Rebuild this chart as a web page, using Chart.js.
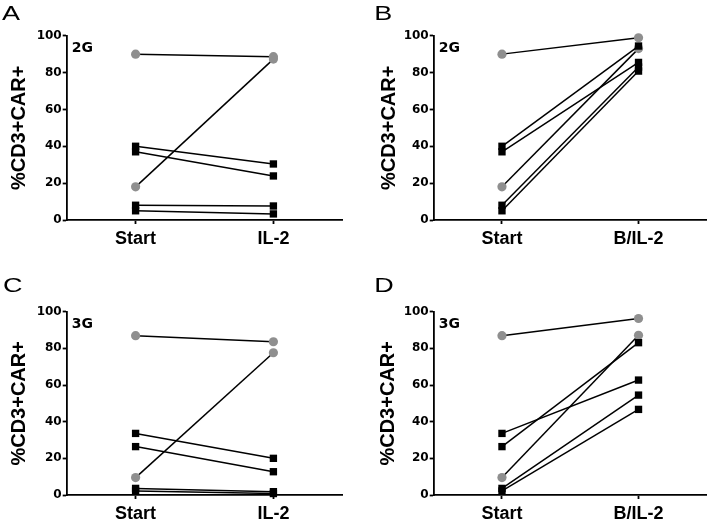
<!DOCTYPE html>
<html>
<head>
<meta charset="utf-8">
<script src="https://cdn.jsdelivr.net/npm/chart.js@4.4.1/dist/chart.umd.min.js"></script>
<style>
  html, body { margin: 0; padding: 0; background: #fff; overflow: hidden; width: 712px; height: 519px; }
  canvas { position: absolute; }
</style>
</head>
<body>
<canvas id="pA" width="356" height="260" style="left:0px;top:0px"></canvas>
<canvas id="pB" width="356" height="260" style="left:356px;top:0px"></canvas>
<canvas id="pC" width="356" height="300" style="left:0px;top:260px"></canvas>
<canvas id="pD" width="356" height="300" style="left:356px;top:260px"></canvas>
<script>
// ---- data ----
const categoriesIL2  = ['Start', 'IL-2'];
const categoriesBIL2 = ['Start', 'B/IL-2'];
const yTicks = [0, 20, 40, 60, 80, 100];
const yTitle = '%CD3+CAR+';

// Panel A (2G, Start -> IL-2)
const A_circleStart = [90, 18];
const A_circleEnd   = [88.6, 87.3];
const A_squareStart = [40, 37, 8, 5];
const A_squareEnd   = [30.4, 23.9, 7.6, 3.3];

// Panel B (2G, Start -> B/IL-2)
const B_circleStart = [90, 18];
const B_circleEnd   = [98.9, 93];
const B_squareStart = [40, 37, 8, 5];
const B_squareEnd   = [94.4, 85.5, 83, 80.8];

// Panel C (3G, Start -> IL-2)
const C_circleStart = [86.9, 9.5];
const C_circleEnd   = [83.6, 77.6];
const C_squareStart = [33.6, 26.4, 3.6, 2.2];
const C_squareEnd   = [20, 12.7, 1.8, 0.8];

// Panel D (3G, Start -> B/IL-2)
const D_circleStart = [86.9, 9.5];
const D_circleEnd   = [96.3, 87.1];
const D_squareStart = [33.6, 26.4, 3.6, 2.2];
const D_squareEnd   = [62.7, 83.1, 54.5, 46.7];

// ---- styling ----
const GRAY = '#8f8f8f';
const BLACK = '#000000';

const textPlugin = {
  id: 'panelText',
  afterDraw(chart, args, opts) {
    const ctx = chart.ctx, a = chart.chartArea;
    ctx.save();
    ctx.fillStyle = '#000';
    ctx.textAlign = 'left';
    ctx.textBaseline = 'alphabetic';
    ctx.font = 'bold 14px "DejaVu Sans"';
    ctx.fillText(opts.tag, a.left + 5, a.top + 16);
    ctx.translate(opts.letterX, opts.letterY);
    ctx.scale(1.35, 1);
    ctx.font = '20px "Liberation Sans"';
    ctx.fillText(opts.letter, 0, 0);
    ctx.restore();
  }
};

function makePanel(id, cfg) {
  const datasets = [];
  cfg.squareStart.forEach((v, i) => {
    datasets.push({
      data: [v, cfg.squareEnd[i]],
      borderColor: BLACK, borderWidth: 1.5,
      pointStyle: 'rect', pointRadius: 5.2, pointBorderWidth: 0,
      pointBackgroundColor: BLACK, pointBorderColor: BLACK,
      clip: false
    });
  });
  cfg.circleStart.forEach((v, i) => {
    datasets.push({
      data: [v, cfg.circleEnd[i]],
      borderColor: BLACK, borderWidth: 1.5,
      pointStyle: 'circle', pointRadius: 4.6, pointBorderWidth: 0,
      pointBackgroundColor: GRAY, pointBorderColor: GRAY,
      clip: false
    });
  });
  new Chart(document.getElementById(id), {
    type: 'line',
    data: { labels: cfg.categories, datasets },
    plugins: [textPlugin],
    options: {
      responsive: false, animation: false, devicePixelRatio: 1,
      events: [],
      layout: { padding: { left: 0, top: cfg.padTop, right: cfg.padRight, bottom: 0 } },
      plugins: {
        legend: { display: false }, tooltip: { enabled: false },
        panelText: { tag: cfg.tag, letter: cfg.letter, letterX: cfg.letterX, letterY: cfg.letterY }
      },
      scales: {
        x: {
          type: 'category', offset: true,
          grid: { display: true, drawOnChartArea: false, drawTicks: true, tickLength: 4, tickWidth: 1.8, tickColor: BLACK },
          border: { display: true, color: BLACK, width: 1.8 },
          ticks: { color: BLACK, autoSkip: false, maxRotation: 0, padding: 4,
                   font: { family: '"Liberation Sans", Arial, sans-serif', size: 18, weight: 'bold' } },
          afterFit: s => { s.height = cfg.xHeight; }
        },
        y: {
          min: 0, max: 100,
          afterBuildTicks: s => { s.ticks = yTicks.map(v => ({ value: v })); },
          grid: { display: true, drawOnChartArea: false, drawTicks: true, tickLength: 4, tickWidth: 1.8, tickColor: BLACK },
          border: { display: true, color: BLACK, width: 1.8 },
          ticks: { color: BLACK, padding: 1,
                   font: { family: '"DejaVu Sans", sans-serif', size: 12, weight: 'bold' } },
          title: { display: true, text: yTitle, color: BLACK, padding: { top: cfg.titlePad, bottom: 0 },
                   font: { family: '"Liberation Sans", Arial, sans-serif', size: 20, weight: 'bold' } },
          afterFit: s => { s.width = cfg.yWidth; }
        }
      }
    }
  });
}

makePanel('pA', { categories: categoriesIL2, circleStart: A_circleStart, circleEnd: A_circleEnd,
  squareStart: A_squareStart, squareEnd: A_squareEnd, tag: '2G', letter: 'A',
  padTop: 35.7, padRight: 356 - 342.3, xHeight: 260 - 220, yWidth: 66.7, titlePad: 7.2,
  letterX: 2, letterY: 20 });
makePanel('pB', { categories: categoriesBIL2, circleStart: B_circleStart, circleEnd: B_circleEnd,
  squareStart: B_squareStart, squareEnd: B_squareEnd, tag: '2G', letter: 'B',
  padTop: 35.7, padRight: 1, xHeight: 260 - 220, yWidth: 77.7, titlePad: 21.3,
  letterX: 18.3, letterY: 20 });
makePanel('pC', { categories: categoriesIL2, circleStart: C_circleStart, circleEnd: C_circleEnd,
  squareStart: C_squareStart, squareEnd: C_squareEnd, tag: '3G', letter: 'C',
  padTop: 51.7, padRight: 356 - 342.3, xHeight: 300 - 235, yWidth: 66.7, titlePad: 7.2,
  letterX: 3, letterY: 31.5 });
makePanel('pD', { categories: categoriesBIL2, circleStart: D_circleStart, circleEnd: D_circleEnd,
  squareStart: D_squareStart, squareEnd: D_squareEnd, tag: '3G', letter: 'D',
  padTop: 51.7, padRight: 1, xHeight: 300 - 235, yWidth: 77.7, titlePad: 20.5,
  letterX: 18.3, letterY: 31.5 });
</script>
</body>
</html>
